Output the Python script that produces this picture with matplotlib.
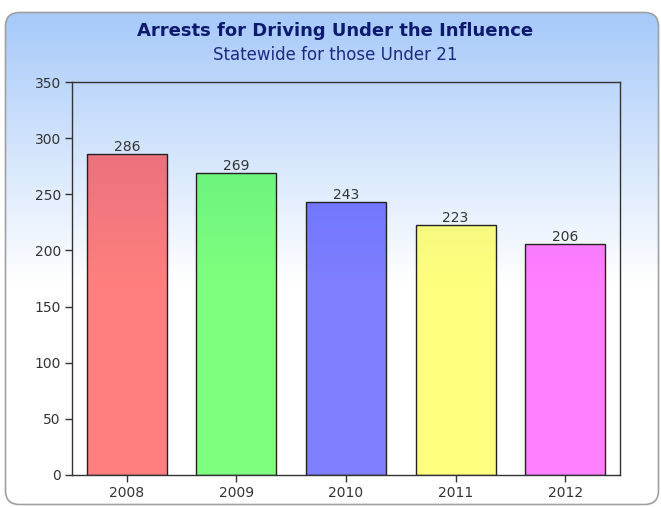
import numpy as np
import matplotlib
matplotlib.use("Agg")
import matplotlib.pyplot as plt
from matplotlib.patches import FancyBboxPatch

years = ["2008", "2009", "2010", "2011", "2012"]
arrests = [286, 269, 243, 223, 206]
bar_colors = ["#ff0000", "#00ff00", "#0000ff", "#ffff00", "#ff00ff"]
y_ticks = [0, 50, 100, 150, 200, 250, 300, 350]

W, H = 661, 507
fig = plt.figure(figsize=(W / 100, H / 100), dpi=100)
plt.rcParams["font.family"] = "DejaVu Sans"

# background: rounded panel with blue -> white gradient
bg = fig.add_axes([0, 0, 1, 1])
bg.set_xlim(0, W)
bg.set_ylim(H, 0)
bg.axis("off")
panel = FancyBboxPatch((5.5, 12.5), 653, 492, boxstyle="round,pad=0,rounding_size=14",
                       facecolor="none", edgecolor="#a0a0a0", linewidth=1.2, zorder=3)
bg.add_patch(panel)
rows = np.linspace(0, 1, H)
t = np.clip((rows * H - 12) / 270, 0, 1)
top = np.array([0.65, 0.79, 0.98])
grad = top[None, :] * (1 - t[:, None]) + np.ones(3)[None, :] * t[:, None]
img = np.repeat(grad[:, None, :], 2, axis=1)
im = bg.imshow(img, extent=(0, W, H, 0), aspect="auto", zorder=1)
im.set_clip_path(panel)

fig.text(0.507, 1 - 36 / H, "Arrests for Driving Under the Influence", ha="center", va="baseline",
         fontsize=13, fontweight="bold", color="#0d1a6e")
fig.text(0.507, 1 - 60 / H, "Statewide for those Under 21", ha="center", va="baseline",
         fontsize=12, color="#1c2a80")

ax = fig.add_axes([72 / W, 1 - 475 / H, 548 / W, 393 / H])
ax.patch.set_alpha(0)
x = np.arange(len(years))
bars = ax.bar(x, arrests, width=0.73, color=bar_colors, alpha=0.5, zorder=2)
ax.bar(x, arrests, width=0.73, facecolor="none", edgecolor="#222222", linewidth=1, zorder=3)
ax.bar_label(bars, labels=[str(v) for v in arrests], padding=0, fontsize=10, color="#333333")
ax.set_xlim(-0.5, len(years) - 0.5)
ax.set_ylim(0, 350)
ax.set_yticks(y_ticks)
ax.set_xticks(x)
ax.set_xticklabels(years)
ax.tick_params(direction="out", length=5, width=1, color="#333333", labelsize=10,
               labelcolor="#333333", pad=3)
for s in ax.spines.values():
    s.set_color("#333333")
    s.set_linewidth(1)

fig.savefig("out.png", dpi=100)
